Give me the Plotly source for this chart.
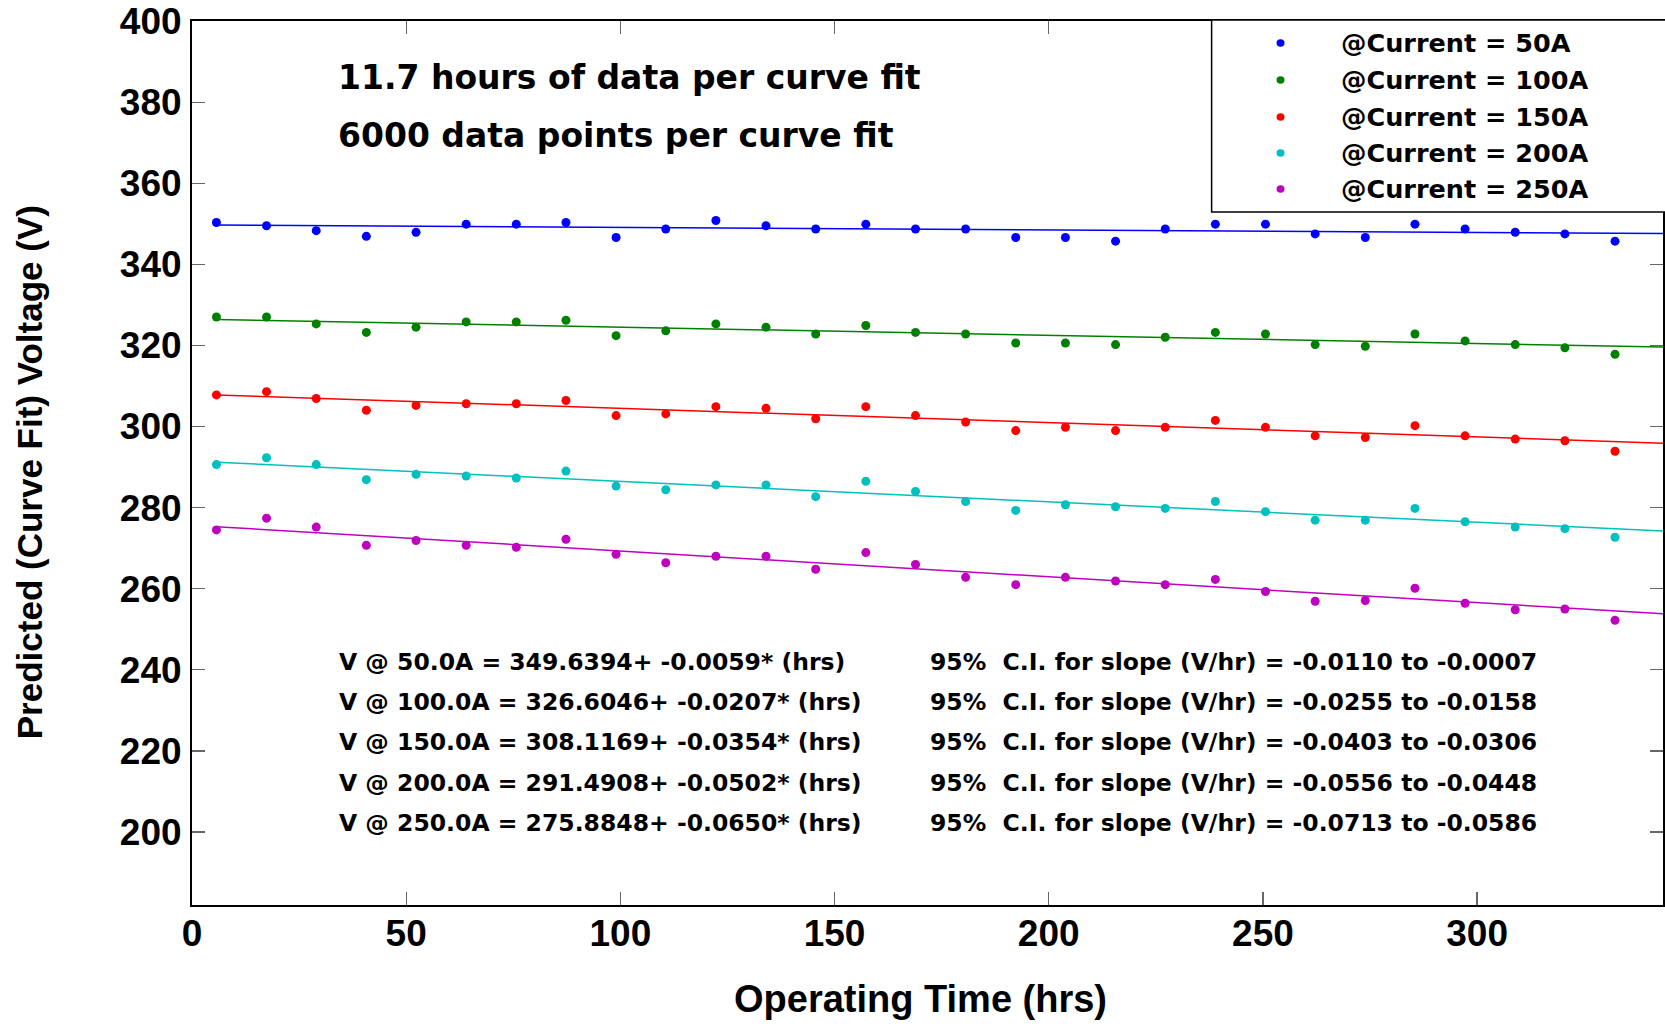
import plotly.graph_objects as go

# ---- data ----
hours = [5.7, 17.4, 29.0, 40.7, 52.3, 64.0, 75.7, 87.3, 99.0, 110.6, 122.3, 134.0, 145.6, 157.3,
         168.9, 180.6, 192.3, 203.9, 215.6, 227.2, 238.9, 250.6, 262.2, 273.9, 285.5, 297.2,
         308.9, 320.5, 332.2]

v50 = [350.3, 349.5, 348.3, 346.9, 347.9, 349.9, 349.9, 350.3, 346.6, 348.7, 350.8, 349.5, 348.7, 349.9,
       348.7, 348.7, 346.6, 346.6, 345.7, 348.7, 349.9, 349.9, 347.5, 346.6, 349.9, 348.7, 347.9, 347.5, 345.7]
v100 = [327.0, 327.0, 325.3, 323.2, 324.5, 325.8, 325.8, 326.2, 322.4, 323.6, 325.3, 324.5, 322.8, 324.9,
        323.2, 322.8, 320.6, 320.6, 320.2, 322.0, 323.2, 322.8, 320.2, 319.8, 322.8, 321.1, 320.2, 319.4, 317.8]
v150 = [307.8, 308.6, 306.9, 304.0, 305.2, 305.6, 305.6, 306.4, 302.7, 303.1, 304.9, 304.5, 301.9, 304.9,
        302.7, 301.1, 299.0, 299.8, 299.0, 299.8, 301.5, 299.8, 297.7, 297.3, 300.2, 297.7, 296.9, 296.5, 293.9]
v200 = [290.6, 292.3, 290.6, 286.9, 288.2, 287.8, 287.3, 289.0, 285.3, 284.4, 285.6, 285.6, 282.7, 286.5,
        284.0, 281.5, 279.3, 280.7, 280.2, 279.8, 281.5, 279.0, 276.9, 276.9, 279.8, 276.5, 275.2, 274.8, 272.7]
v250 = [274.5, 277.4, 275.2, 270.7, 271.9, 270.7, 270.2, 272.2, 268.5, 266.4, 268.0, 268.0, 264.8, 268.9,
        266.0, 262.8, 261.0, 262.8, 261.9, 261.0, 262.3, 259.3, 256.9, 257.1, 260.1, 256.4, 254.8, 255.0, 252.2]

# fitted lines: value at first point and at right edge of the axis
fit_x = [5.7, 343.4]
fit50 = [349.7, 347.6]
fit100 = [326.4, 319.6]
fit150 = [307.8, 295.9]
fit200 = [291.2, 274.2]
fit250 = [275.3, 253.8]

series_names = ["@Current = 50A", "@Current = 100A", "@Current = 150A", "@Current = 200A", "@Current = 250A"]
colors = ["#0000FF", "#008000", "#FF0000", "#00BFBF", "#BF00BF"]

eq_texts = [
    "V @ 50.0A = 349.6394+ -0.0059* (hrs)",
    "V @ 100.0A = 326.6046+ -0.0207* (hrs)",
    "V @ 150.0A = 308.1169+ -0.0354* (hrs)",
    "V @ 200.0A = 291.4908+ -0.0502* (hrs)",
    "V @ 250.0A = 275.8848+ -0.0650* (hrs)",
]
ci_texts = [
    "95%\u00a0\u00a0C.I. for slope (V/hr) = -0.0110 to -0.0007",
    "95%\u00a0\u00a0C.I. for slope (V/hr) = -0.0255 to -0.0158",
    "95%\u00a0\u00a0C.I. for slope (V/hr) = -0.0403 to -0.0306",
    "95%\u00a0\u00a0C.I. for slope (V/hr) = -0.0556 to -0.0448",
    "95%\u00a0\u00a0C.I. for slope (V/hr) = -0.0713 to -0.0586",
]
note_texts = ["11.7 hours of data per curve fit", "6000 data points per curve fit"]

x_ticks = [0, 50, 100, 150, 200, 250, 300]
y_ticks = [200, 220, 240, 260, 280, 300, 320, 340, 360, 380, 400]

# ---- layout geometry (pixels) ----
W, H = 1665, 1024
L, R, T, B = 192, 0, 21, 119
PW, PH = W - L - R, H - T - B


def px(x):
    return (x - L) / PW


def py(y):
    return (H - B - y) / PH


fig = go.Figure()

vals = [v50, v100, v150, v200, v250]
fits = [fit50, fit100, fit150, fit200, fit250]
for name, col, v, f in zip(series_names, colors, vals, fits):
    fig.add_trace(go.Scatter(x=fit_x, y=f, mode="lines", line=dict(color=col, width=1.5),
                             showlegend=False, hoverinfo="skip"))
    fig.add_trace(go.Scatter(x=hours, y=v, mode="markers", name=name,
                             marker=dict(color=col, size=9), showlegend=False))

annotations = []
txt_font = dict(family="DejaVu Sans", size=23.5, color="black", weight="bold")
eq_rows = [662, 702, 742, 783, 823]
for t, yrow in zip(eq_texts, eq_rows):
    annotations.append(dict(text=t, x=px(337), y=py(yrow), xref="paper", yref="paper",
                            xanchor="left", yanchor="middle", showarrow=False, font=txt_font))
for t, yrow in zip(ci_texts, eq_rows):
    annotations.append(dict(text=t, x=px(929), y=py(yrow), xref="paper", yref="paper",
                            xanchor="left", yanchor="middle", showarrow=False, font=txt_font))

note_font = dict(family="DejaVu Sans", size=33, color="black", weight="bold")
for t, yrow in zip(note_texts, [77, 135]):
    annotations.append(dict(text=t, x=px(336), y=py(yrow), xref="paper", yref="paper",
                            xanchor="left", yanchor="middle", showarrow=False, font=note_font))

# legend (manual)
leg_rows = [43, 80, 117, 153, 189]
leg_font = dict(family="DejaVu Sans", size=25.5, color="black", weight="bold")
shapes = [dict(type="rect", xref="paper", yref="paper", x0=px(1213), x1=px(1700),
               y0=py(212), y1=py(20), line=dict(color="black", width=1.5), fillcolor="white", layer="above")]
for name, col, yrow in zip(series_names, colors, leg_rows):
    annotations.append(dict(text=name, x=px(1341), y=py(yrow), xref="paper", yref="paper",
                            xanchor="left", yanchor="middle", showarrow=False, font=leg_font))
    shapes.append(dict(type="circle", xref="paper", yref="paper", xsizemode="pixel", ysizemode="pixel",
                       xanchor=px(1282), yanchor=py(yrow), x0=-4, x1=4, y0=-3.7, y1=3.7,
                       fillcolor=col, line=dict(width=0, color=col), layer="above"))

# axis titles
title_font = dict(family="Liberation Sans", size=38, color="black", weight="bold")
annotations.append(dict(text="Operating Time (hrs)", x=px(921), y=py(999), xref="paper", yref="paper",
                        xanchor="center", yanchor="middle", showarrow=False, font=title_font))
annotations.append(dict(text="Predicted (Curve Fit) Voltage (V)", x=px(30), y=py(472), xref="paper",
                        yref="paper", xanchor="center", yanchor="middle", textangle=-90,
                        showarrow=False, font=dict(family="Liberation Sans", size=35, color="black",
                                                   weight="bold")))

tick_font = dict(family="Liberation Sans", size=37, color="black", weight="bold")
fig.update_layout(
    width=W, height=H,
    margin=dict(l=L, r=R, t=T, b=B, pad=0),
    paper_bgcolor="white", plot_bgcolor="white",
    annotations=annotations, shapes=shapes,
    showlegend=False,
    xaxis=dict(range=[0, 343.4], tickvals=x_ticks, ticktext=[str(v) for v in x_ticks],
               ticks="inside", ticklen=13, tickwidth=1.2, tickcolor="#666666",
               showline=True, linecolor="black", linewidth=2, mirror="ticks",
               showgrid=False, zeroline=False, tickfont=tick_font, ticklabelstandoff=-5),
    yaxis=dict(range=[182, 400], tickvals=y_ticks, ticktext=[str(v) for v in y_ticks],
               ticks="inside", ticklen=13, tickwidth=1.2, tickcolor="#666666",
               showline=True, linecolor="black", linewidth=2, mirror="ticks",
               showgrid=False, zeroline=False, tickfont=tick_font, ticklabelstandoff=1),
)

fig.write_html(
    "out.html",
    config={"displayModeBar": False, "staticPlot": True},
    post_script="document.body.style.margin='0';document.body.style.padding='0';"
                "document.body.style.overflow='hidden';",
)
